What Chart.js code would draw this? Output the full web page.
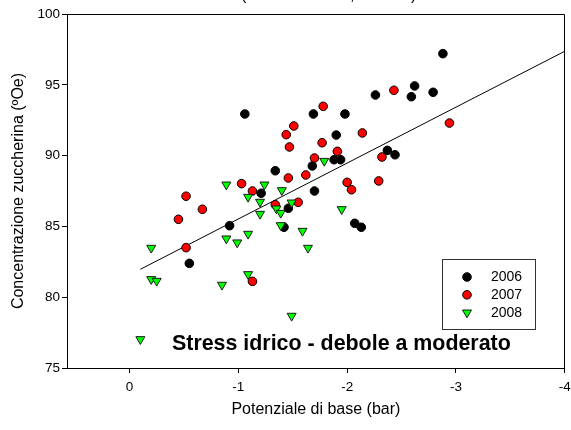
<!DOCTYPE html>
<html>
<head>
<meta charset="utf-8">
<script src="https://cdn.jsdelivr.net/npm/chart.js@4.4.1/dist/chart.umd.min.js"></script>
<style>
  html, body { margin: 0; padding: 0; background: #fff; }
</style>
</head>
<body>
<canvas id="grafico" width="571" height="430"></canvas>
<script>
// Dati
const anni = ['2006', '2007', '2008'];

const x2006 = [-2.88, -2.26, -2.62, -2.59, -2.79, -1.98, -1.90, -1.88, -1.94, -2.37, -2.44, -2.07,
               -2.13, -1.06, -1.69, -1.68, -1.34, -1.70, -1.21, -1.46, -1.42, -0.92, -0.55];
const y2006 = [97.2, 94.28, 94.92, 94.16, 94.47, 92.94, 91.45, 89.71, 89.71, 90.37, 90.06, 85.22,
               84.94, 92.94, 92.94, 89.27, 88.93, 87.50, 87.34, 86.28, 84.94, 85.05, 82.39];

const x2007 = [-1.78, -1.51, -1.44, -1.47, -1.77, -1.91, -1.70, -1.46, -1.62, -1.03, -2.43, -2.14, -2.32,
               -2.94, -2.00, -2.29, -2.04, -1.13, -0.52, -0.67, -0.45, -1.34, -1.55, -0.52, -1.13];
const y2007 = [93.48, 92.09, 91.48, 90.61, 90.91, 90.30, 89.83, 88.42, 88.63, 88.02, 94.61, 91.60, 89.90,
               92.30, 88.11, 88.21, 87.59, 87.50, 87.13, 86.21, 85.50, 86.53, 86.70, 83.50, 81.12];

const x2008 = [-0.89, -1.24, -1.09, -1.40, -1.20, -1.35, -1.39, -1.49, -1.20, -1.39, -1.09, -0.89,
               -0.99, -1.59, -1.64, -0.20, -0.20, -0.25, -0.85, -1.09, -1.49, -0.10, -1.95, -1.79];
const y2008 = [87.95, 87.95, 87.08, 87.55, 86.73, 86.26, 85.95, 86.68, 85.88, 85.08, 84.47, 84.14,
               83.86, 84.68, 83.48, 83.48, 81.27, 81.15, 80.87, 81.62, 78.68, 77.03, 86.21, 89.62];

// retta di regressione (estremi)
const trendX = [-0.10, -4.0];
const trendY = [81.97, 97.37];

const xTicks = [0, -1, -2, -3, -4];
const yTicks = [75, 80, 85, 90, 95, 100];

const titoloX = 'Potenziale di base (bar)';
const titoloY = 'Concentrazione zuccherina (ºOe)';
const nota = 'Stress idrico - debole a moderato';

const FONT = "'Liberation Sans', Arial, sans-serif";

function punti(xs, ys) {
    return xs.map((x, i) => ({ x: x, y: ys[i] }));
}

// Cornice, legenda e nota disegnate a mano
const decorazioni = {
    id: 'decorazioni',
    afterDraw(chart) {
        const ctx = chart.ctx;
        const a = chart.chartArea;
        ctx.save();

        // lati superiore e destro del riquadro
        ctx.strokeStyle = '#000';
        ctx.lineWidth = 1;
        ctx.beginPath();
        ctx.moveTo(a.left, Math.round(a.top) + 0.5);
        ctx.lineTo(Math.round(a.right) - 0.5, Math.round(a.top) + 0.5);
        ctx.lineTo(Math.round(a.right) - 0.5, a.bottom);
        ctx.stroke();

        // frammento del titolo tagliato in alto
        ctx.fillStyle = '#000';
        ctx.font = '16px ' + FONT;
        ctx.textBaseline = 'alphabetic';
        ctx.fillText('(', 241, -0.5);
        ctx.fillText(',', 350, -0.5);
        ctx.fillText(')', 411, -0.5);

        // legenda
        ctx.strokeStyle = '#333';
        ctx.strokeRect(442.5, 259.5, 93, 70);
        ctx.font = '14px ' + FONT;
        ctx.textBaseline = 'middle';
        chart.data.datasets.forEach((ds, i) => {
            if (!ds.inLegend) return;
            const y = 277 + i * 17.8;
            ctx.fillStyle = ds.backgroundColor;
            ctx.strokeStyle = ds.borderColor;
            ctx.lineWidth = 1;
            Chart.helpers.drawPoint(ctx, {
                pointStyle: ds.pointStyle,
                rotation: ds.rotation || 0,
                radius: ds.pointRadius,
                borderWidth: 1
            }, 467, y);
            ctx.fillStyle = '#000';
            ctx.fillText(ds.label, 491, y + 0.5);
        });

        // nota
        ctx.font = 'bold 21.4px ' + FONT;
        ctx.textBaseline = 'alphabetic';
        ctx.fillStyle = '#000';
        ctx.fillText(nota, 172, 350);

        ctx.restore();
    }
};

const ctx = document.getElementById('grafico').getContext('2d');

new Chart(ctx, {
    type: 'scatter',
    data: {
        datasets: [
            {
                label: anni[0],
                data: punti(x2006, y2006),
                backgroundColor: '#000000',
                borderColor: '#000000',
                borderWidth: 1,
                pointStyle: 'circle',
                pointRadius: 4.3,
                inLegend: true,
                order: 3
            },
            {
                label: anni[1],
                data: punti(x2007, y2007),
                backgroundColor: '#ff0000',
                borderColor: '#000000',
                borderWidth: 1,
                pointStyle: 'circle',
                pointRadius: 4.3,
                inLegend: true,
                order: 2
            },
            {
                label: anni[2],
                data: punti(x2008, y2008),
                backgroundColor: '#00ff00',
                borderColor: '#1a1a1a',
                borderWidth: 1,
                pointStyle: 'triangle',
                rotation: 180,
                pointRadius: 5.2,
                inLegend: true,
                order: 1
            },
            {
                label: 'regressione',
                data: punti(trendX, trendY),
                showLine: true,
                borderColor: '#000000',
                borderWidth: 1,
                pointRadius: 0,
                fill: false,
                order: 10
            }
        ]
    },
    options: {
        responsive: false,
        animation: false,
        events: [],
        layout: { padding: { top: 14, right: 5, left: 0, bottom: 0 } },
        plugins: {
            legend: { display: false },
            tooltip: { enabled: false }
        },
        scales: {
            x: {
                type: 'linear',
                reverse: true,
                min: -4,
                max: 0.574,
                afterBuildTicks: s => { s.ticks = xTicks.map(v => ({ value: v })); },
                afterFit: s => { s.height = 62; s.paddingLeft = 0; s.paddingRight = 0; },
                grid: { drawOnChartArea: false, drawTicks: true, tickLength: 5, color: '#000' },
                border: { color: '#000', width: 1 },
                ticks: { color: '#000', font: { family: FONT, size: 13.5 }, padding: 6, maxRotation: 0 },
                title: {
                    display: true,
                    text: titoloX,
                    color: '#000',
                    font: { family: FONT, size: 16 },
                    padding: { top: 0, bottom: 11 }
                }
            },
            y: {
                type: 'linear',
                min: 75,
                max: 100,
                afterBuildTicks: s => { s.ticks = yTicks.map(v => ({ value: v })); },
                afterFit: s => { s.width = 67; s.paddingTop = 0; s.paddingBottom = 0; },
                grid: { drawOnChartArea: false, drawTicks: true, tickLength: 5, color: '#000' },
                border: { color: '#000', width: 1 },
                ticks: { color: '#000', font: { family: FONT, size: 13.5 }, padding: 2 },
                title: {
                    display: true,
                    text: titoloY,
                    color: '#000',
                    font: { family: FONT, size: 16 },
                    padding: { top: 9, bottom: 0 }
                }
            }
        }
    },
    plugins: [decorazioni]
});
</script>
</body>
</html>
